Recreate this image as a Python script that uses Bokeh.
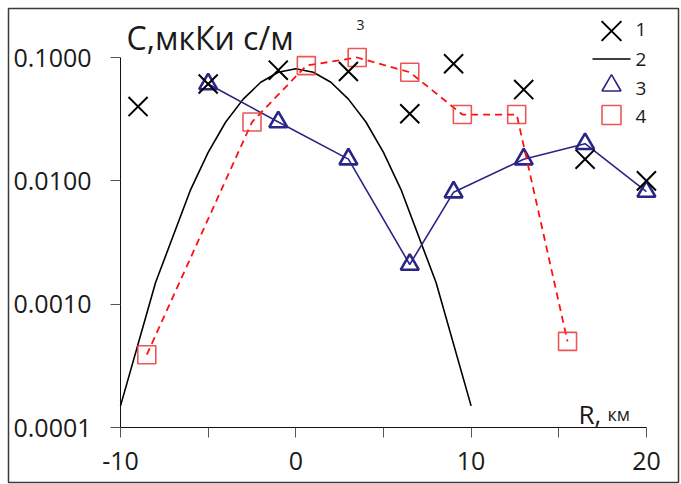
import math
from bokeh.plotting import figure
from bokeh.models import (LinearAxis, LogAxis, Range1d, FixedTicker,
                          PrintfTickFormatter, Label)
from bokeh.embed import file_html
from bokeh.resources import INLINE

# Series 1: measured concentrations (crosses)
r1 = [-9, -5, -1, 3, 6.5, 9, 13, 16.5, 20]
c1 = [0.040, 0.061, 0.079, 0.077, 0.035, 0.089, 0.055, 0.015, 0.010]

# Series 2: model profile (solid curve)
r2 = [-10, -8, -6, -5, -4, -3, -2, -1, 0, 1, 2, 3, 4, 5, 6, 8, 10]
c2 = [0.00015, 0.0015, 0.0085, 0.017, 0.030, 0.046, 0.063, 0.076, 0.081,
      0.076, 0.063, 0.046, 0.030, 0.017, 0.0085, 0.0015, 0.00015]

# Series 3: triangles joined by a solid line
r3 = [-5, -1, 3, 6.5, 9, 13, 16.5, 20]
c3 = [0.061, 0.030, 0.015, 0.0021, 0.0081, 0.015, 0.020, 0.0082]

# Series 4: squares joined by a dashed line
r4 = [-8.5, -2.5, 0.6, 3.5, 6.5, 9.5, 12.6, 15.5]
c4 = [0.00039, 0.030, 0.086, 0.100, 0.076, 0.0345, 0.0345, 0.0005]

legend_labels = ["1", "2", "3", "4"]
x_ticks = [-10, -5, 0, 5, 10, 15, 20]
x_tick_text = {-10: "-10", -5: "", 0: "0", 5: "", 10: "10", 15: "", 20: "20"}
y_ticks = [0.0001, 0.001, 0.01, 0.1]

FONT = "Open Sans"
TXT = "#1a1a1a"
BLUE = "#2b2585"
RED = "#ff1010"
SQ = "#e83a3a"

W, H = 681, 484
BL, BR, BT, BB = 8, 3, 8, 2
X0, X1 = -16.39, 21.83
Y0, Y1 = 3.59e-5, 0.2496
FW, FH = W - BL - BR, H - BT - BB


def at(sx, sy):
    """Canvas pixel position -> data position (for legend and captions)."""
    x = X0 + (sx - BL) / FW * (X1 - X0)
    ly1, ly0 = math.log10(Y1), math.log10(Y0)
    y = 10 ** (ly1 - (sy - BT) / FH * (ly1 - ly0))
    return x, y


p = figure(width=W, height=H, output_backend="svg", toolbar_location=None,
           x_range=Range1d(X0, X1), y_range=Range1d(Y0, Y1),
           y_axis_type="log", x_axis_location=None, y_axis_location=None,
           min_border_left=BL, min_border_right=BR, min_border_top=BT,
           min_border_bottom=BB)
p.outline_line_color = "#3a3a3a"
p.outline_line_width = 1.5
p.background_fill_color = "white"
p.border_fill_color = "white"
for g in p.grid:
    g.visible = False

# axes drawn inside the frame at x=-10 and y=0.0001
xax = LinearAxis(fixed_location=1e-4, bounds=(-10, 20),
                 ticker=FixedTicker(ticks=x_ticks, minor_ticks=[]))
xax.major_label_overrides = x_tick_text
yax = LogAxis(fixed_location=-10, bounds=(1e-4, 0.1),
              ticker=FixedTicker(ticks=y_ticks, minor_ticks=[]),
              formatter=PrintfTickFormatter(format="%.4f"))
for ax in (xax, yax):
    ax.axis_line_color = "#111111"
    ax.axis_line_width = 1
    ax.major_tick_line_color = "#555555"
    ax.major_tick_line_width = 1
    ax.major_tick_in = 0
    ax.major_tick_out = 10
    ax.minor_tick_line_color = None
    ax.major_label_text_font = FONT
    ax.major_label_text_font_size = "25px"
    ax.major_label_text_color = TXT
xax.major_label_standoff = 14
yax.major_label_standoff = 19
p.add_layout(xax, "below")
p.add_layout(yax, "left")

# curves and markers
p.line(r2, c2, line_color="black", line_width=1.6)
p.line(r3, c3, line_color=BLUE, line_width=1.6)
p.scatter(r3, c3, marker="triangle", size=18, fill_color=None,
          line_color=BLUE, line_width=2.6)
p.line(r4, c4, line_color=RED, line_width=1.8, line_dash="7 5")
p.scatter(r4, c4, marker="square", size=18, fill_color=None,
          line_color=SQ, line_alpha=0.85, line_width=1.6)
p.scatter(r1, c1, marker="x", size=27, line_color="black", line_width=2)

# legend key, upper right corner
kx, _ = at(611, 0)
_, ky1 = at(0, 30.5)
_, ky3 = at(0, 85)
_, ky4 = at(0, 114.5)
lx0, ly2 = at(592, 58.5)
lx1, _ = at(630, 58.5)
p.scatter([kx], [ky1], marker="x", size=28, line_color="black", line_width=2)
p.line([lx0, lx1], [ly2, ly2], line_color="black", line_width=1.6)
p.scatter([kx], [ky3], marker="triangle", size=19, fill_color=None,
          line_color=BLUE, line_width=1.6)
p.scatter([kx], [ky4], marker="square", size=19, fill_color=None,
          line_color=SQ, line_alpha=0.85, line_width=1.6)
for lab, sy in zip(legend_labels, [28.5, 59, 87.5, 116]):
    tx, ty = at(635, sy)
    p.add_layout(Label(x=tx, y=ty, text=lab, text_font=FONT,
                       text_font_size="19px", text_color=TXT,
                       text_baseline="middle"))

# captions
tx, ty = at(126, 37)
title = Label(x=tx, y=ty, text="С,мкКи с/м", text_font=FONT,
              text_font_size="32px", text_color=TXT, text_baseline="alphabetic")
tx, ty = at(356, 24)
sup = Label(x=tx, y=ty, text="3", text_font=FONT,
            text_font_size="14px", text_color=TXT, text_baseline="alphabetic")
tx, ty = at(578, 413)
rlab = Label(x=tx, y=ty, text="R,", text_font=FONT,
             text_font_size="26px", text_color=TXT, text_baseline="alphabetic")
tx, ty = at(607, 413)
kmlab = Label(x=tx, y=ty, text="км", text_font=FONT,
              text_font_size="18px", text_color=TXT, text_baseline="alphabetic")
for lab in (title, sup, rlab, kmlab):
    p.add_layout(lab)

open("out.html", "w").write(file_html(p, INLINE))
